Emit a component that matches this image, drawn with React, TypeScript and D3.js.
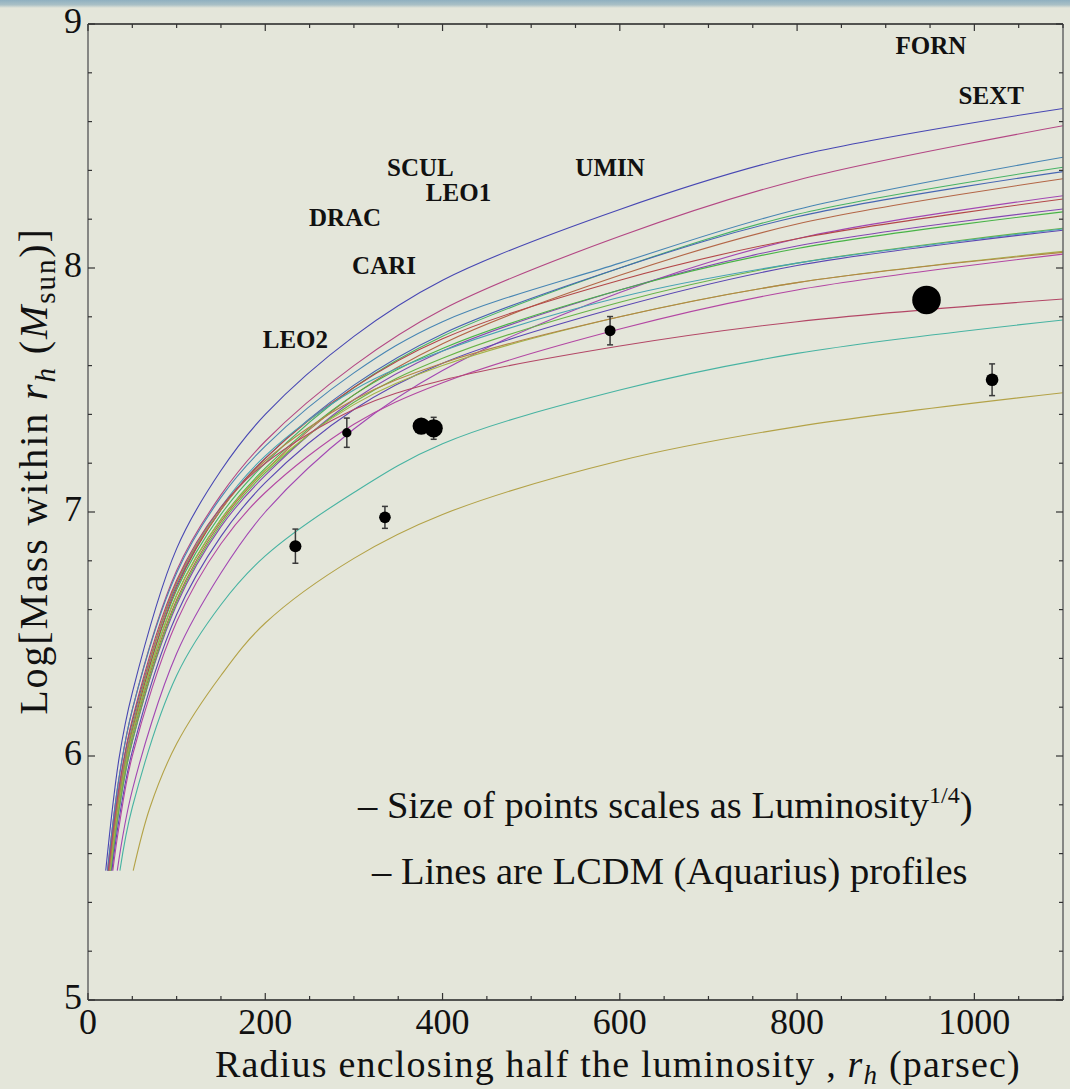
import React from 'react';
import * as d3 from 'd3';

const W = 1070;
const H = 1089;

// ---- axes ----
const xDomain = [0, 1100];
const yDomain = [5, 9];
const xTickLabels = [0, 200, 400, 600, 800, 1000];
const yTickLabels = [5, 6, 7, 8, 9];

// ---- LCDM (Aquarius) profile curves: log M at these radii ----
const profileFloor = 5.53;
const radiiGrid = [35, 50, 70, 100, 150, 200, 300, 400, 600, 800, 1100];
const profileStarts = [20, 22, 22, 24, 23, 25, 33, 24, 26, 25, 26, 24, 27, 25, 24, 28, 23, 36, 51];
const profA = [5.99, 6.26, null, 6.85, 7.17, 7.40, 7.72, 7.95, 8.24, 8.46, 8.654];
const profB = [5.91, 6.19, null, 6.76, 7.07, 7.29, 7.60, 7.83, 8.13, 8.36, 8.583];
const profC = [5.91, 6.19, null, 6.75, 7.06, 7.27, 7.57, 7.78, 8.02, 8.24, 8.454];
const profD = [5.84, 6.11, null, 6.68, 6.99, 7.20, 7.51, 7.72, 8.00, 8.22, 8.413];
const profE = [5.87, 6.14, null, 6.70, 7.01, 7.22, 7.52, 7.73, 8.00, 8.21, 8.395];
const profF = [5.81, 6.08, null, 6.64, 6.96, 7.17, 7.48, 7.69, 7.97, 8.18, 8.366];
const profG = [null, 5.86, null, 6.42, 6.75, 7.00, 7.34, 7.58, 7.90, 8.12, 8.296];
const profH = [5.84, 6.11, null, 6.69, 7.01, 7.22, 7.51, 7.71, 7.95, 8.12, 8.283];
const profI = [5.78, 6.06, null, 6.62, 6.94, 7.15, 7.46, 7.66, 7.91, 8.09, 8.242];
const profJ = [5.81, 6.09, null, 6.66, 6.97, 7.18, 7.48, 7.67, 7.91, 8.08, 8.230];
const profK = [5.78, 6.06, null, 6.63, 6.95, 7.16, 7.45, 7.63, 7.86, 8.02, 8.163];
const profL = [5.84, 6.12, null, 6.71, 7.02, 7.23, 7.50, 7.66, 7.88, 8.02, 8.160];
const profM = [5.74, 6.02, null, 6.58, 6.90, 7.12, 7.42, 7.61, 7.84, 8.01, 8.155];
const profN = [5.81, 6.09, null, 6.66, 6.97, 7.17, 7.44, 7.60, 7.80, 7.94, 8.068];
const profO = [5.84, 6.12, null, 6.71, 7.01, 7.21, 7.46, 7.61, 7.80, 7.94, 8.064];
const profP = [5.71, 6.00, null, 6.55, 6.87, 7.08, 7.36, 7.53, 7.75, 7.91, 8.057];
const profQ = [5.87, 6.15, null, 6.72, 7.02, 7.20, 7.42, 7.54, 7.68, 7.78, 7.873];
const profR = [null, 5.79, null, 6.33, 6.62, 6.82, 7.08, 7.28, 7.50, 7.65, 7.787];
const profS = [null, null, 5.79, 6.05, 6.33, 6.545, 6.81, 6.99, 7.21, 7.35, 7.489];
const profiles = [profA, profB, profC, profD, profE, profF, profG, profH, profI, profJ,
  profK, profL, profM, profN, profO, profP, profQ, profR, profS];
const profileColors = ['#4747b3', '#b34784', '#4785b3', '#47b365', '#4766b3', '#b36647',
  '#a247b3', '#b34748', '#8447b3', '#48b347', '#66b347', '#47a3b3', '#5a47b3', '#a3b347',
  '#b38447', '#b347a3', '#b34766', '#47b3a2', '#b3a247'];

// ---- dwarf spheroidals ----
const galaxyNames = ['LEO2', 'DRAC', 'CARI', 'SCUL', 'LEO1', 'UMIN', 'FORN', 'SEXT'];
const galaxyRh = [234, 292, 335, 376, 390, 589, 946, 1020];
const galaxyLogM = [6.86, 7.325, 6.978, 7.352, 7.343, 7.743, 7.869, 7.542];
const galaxyErr = [0.07, 0.06, 0.045, 0, 0.045, 0.058, 0, 0.065];
const galaxyLum = [4.4e5, 1.6e5, 3.9e5, 1.9e6, 2.3e6, 3.1e5, 1.4e7, 5.3e5];
const labelRh = [234, 290, 334, 375, 418, 589, 951, 1019];
const labelLogM = [7.672, 8.172, 7.975, 8.377, 8.275, 8.377, 8.877, 8.672];

const serif = "'Liberation Serif', 'Times New Roman', serif";

export default function App() {
  const left = 88, right = 1063, top = 24, bottom = 1000;
  const x = d3.scaleLinear().domain(xDomain).range([left, right]);
  const y = d3.scaleLinear().domain(yDomain).range([bottom, top]);
  const size = d3.scalePow().exponent(0.25).domain([0, 1.4e7]).range([0, 14.3]);

  const line = d3.line<[number, number]>()
    .x(d => x(d[0]))
    .y(d => y(d[1]))
    .curve(d3.curveCatmullRom.alpha(0.5));

  const xMinor = d3.range(0, 1100.01, 50);
  const yMinor = d3.range(5, 9.001, 0.2);
  const isMajorX = (v: number) => Math.abs(v % 200) < 1e-6;
  const isMajorY = (v: number) => Math.abs(v - Math.round(v)) < 1e-6;

  return (
    <svg width={W} height={H} style={{ position: 'absolute', left: 0, top: 0 }}
      xmlns="http://www.w3.org/2000/svg">
      <defs>
        <linearGradient id="topband" x1="0" y1="0" x2="0" y2="1">
          <stop offset="0" stopColor="#8fb0c0" />
          <stop offset="0.6" stopColor="#a9c0c6" />
          <stop offset="1" stopColor="#e4e6da" />
        </linearGradient>
        <clipPath id="plotclip">
          <rect x={left} y={top} width={right - left} height={bottom - top} />
        </clipPath>
      </defs>
      <rect x={0} y={0} width={W} height={H} fill="#e4e6da" />
      <rect x={0} y={0} width={W} height={8} fill="url(#topband)" />

      {/* curves */}
      <g clipPath="url(#plotclip)" fill="none">
        {profiles.map((vals, i) => {
          const pts: [number, number][] = [[profileStarts[i], profileFloor]];
          vals.forEach((v, j) => {
            if (v !== null && radiiGrid[j] > profileStarts[i]) pts.push([radiiGrid[j], v as number]);
          });
          return <path key={i} d={line(pts) || ''} stroke={profileColors[i]} strokeWidth={1.1} />;
        })}
      </g>

      {/* error bars and points */}
      <g>
        {galaxyNames.map((n, i) => galaxyErr[i] > 0 ? (
          <g key={'e' + n} stroke="#3a3a3a" strokeWidth={1.5}>
            <line x1={x(galaxyRh[i])} x2={x(galaxyRh[i])} y1={y(galaxyLogM[i] - galaxyErr[i])} y2={y(galaxyLogM[i] + galaxyErr[i])} />
            <line x1={x(galaxyRh[i]) - 3} x2={x(galaxyRh[i]) + 3} y1={y(galaxyLogM[i] - galaxyErr[i])} y2={y(galaxyLogM[i] - galaxyErr[i])} />
            <line x1={x(galaxyRh[i]) - 3} x2={x(galaxyRh[i]) + 3} y1={y(galaxyLogM[i] + galaxyErr[i])} y2={y(galaxyLogM[i] + galaxyErr[i])} />
          </g>
        ) : null)}
        {galaxyNames.map((n, i) => (
          <circle key={'c' + n} cx={x(galaxyRh[i])} cy={y(galaxyLogM[i])} r={size(galaxyLum[i])} fill="#000" />
        ))}
      </g>

      {/* labels */}
      <g fontFamily={serif} fontWeight="bold" fontSize={25} textAnchor="middle" fill="#111">
        {galaxyNames.map((n, i) => (
          <text key={'l' + n} x={x(labelRh[i])} y={y(labelLogM[i])}>{n}</text>
        ))}
      </g>

      {/* frame */}
      <g fill="none">
        <line x1={left} x2={right} y1={top} y2={top} stroke="#222" strokeWidth={1.5} />
        <line x1={left} x2={right} y1={bottom} y2={bottom} stroke="#222" strokeWidth={1.5} />
        <line x1={left} x2={left} y1={top} y2={bottom} stroke="#666" strokeWidth={1.5} />
        <line x1={right} x2={right} y1={top} y2={bottom} stroke="#666" strokeWidth={1.5} />
      </g>
      {/* ticks */}
      <g stroke="#333" strokeWidth={1.2}>
        {xMinor.map(v => {
          const len = isMajorX(v) ? 7 : 4;
          return (
            <g key={'xt' + v}>
              <line x1={x(v)} x2={x(v)} y1={bottom} y2={bottom - len} />
              <line x1={x(v)} x2={x(v)} y1={top} y2={top + len} />
            </g>
          );
        })}
        {yMinor.map(v => {
          const len = isMajorY(v) ? 7 : 4;
          return (
            <g key={'yt' + v.toFixed(1)}>
              <line x1={left} x2={left + len} y1={y(v)} y2={y(v)} />
              <line x1={right} x2={right - len} y1={y(v)} y2={y(v)} />
            </g>
          );
        })}
      </g>
      {/* tick labels */}
      <g fontFamily={serif} fontSize={36} fill="#111">
        {xTickLabels.map(v => (
          <text key={'xl' + v} x={x(v)} y={1034} textAnchor="middle">{v}</text>
        ))}
        {yTickLabels.map(v => (
          <text key={'yl' + v} x={82} y={y(v) + 9} textAnchor="end">{v}</text>
        ))}
      </g>

      {/* axis titles */}
      <text x={215} y={1077} fontFamily={serif} fontSize={38} letterSpacing={1.2} fill="#111">
        Radius enclosing half the luminosity<tspan> , </tspan><tspan fontStyle="italic">r</tspan>
        <tspan fontStyle="italic" fontSize={27} dy={7}>h</tspan><tspan dy={-7}> (parsec)</tspan>
      </text>
      <text transform="translate(47,471) rotate(-90)" textAnchor="middle" fontFamily={serif} fontSize={40} letterSpacing={1.9} fill="#111">
        Log[Mass within <tspan fontStyle="italic">r</tspan><tspan fontStyle="italic" fontSize={29} dy={8}>h</tspan>
        <tspan dy={-8}> (</tspan><tspan fontStyle="italic">M</tspan><tspan fontSize={29} dy={8}>sun</tspan><tspan dy={-8}>)]</tspan>
      </text>

      {/* notes */}
      <text x={358} y={818} fontFamily={serif} fontSize={38.5} fill="#111">
        – Size of points scales as Luminosity<tspan fontSize={24} dy={-15}>1/4</tspan><tspan dy={15}>)</tspan>
      </text>
      <text x={372} y={884} fontFamily={serif} fontSize={38.5} fill="#111">
        – Lines are LCDM (Aquarius) profiles
      </text>
    </svg>
  );
}
